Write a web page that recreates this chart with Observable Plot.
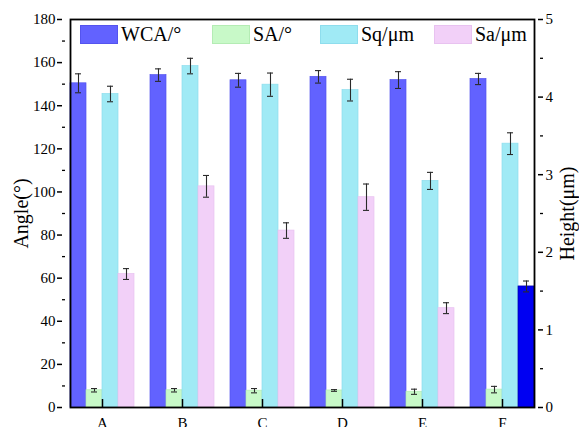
<!DOCTYPE html>
<html><head><meta charset="utf-8">
<script src="https://cdn.jsdelivr.net/npm/d3@7"></script>
<script src="https://cdn.jsdelivr.net/npm/@observablehq/plot@0.6"></script>
<style>
body{margin:0;background:#fff;}
#wrap{position:relative;width:579px;height:427px;overflow:hidden;font-family:"Liberation Serif","Times New Roman",serif;}
#wrap svg text{font-family:"Liberation Serif","Times New Roman",serif;}
#legend{position:absolute;left:0;top:0;width:579px;height:50px;pointer-events:none;}
.item{position:absolute;top:25px;height:19px;display:flex;align-items:center;font-size:20px;color:#000;white-space:nowrap;}
.sw{width:36px;height:17px;margin-right:3px;border:1px solid;}
</style></head><body><div id="wrap"><div id="legend"></div></div>
<script>
// ---- data ----
const categories = ["A", "B", "C", "D", "E", "F"];
const seriesNames = ["WCA/°", "SA/°", "Sq/μm", "Sa/μm"];
const wca    = [150.4, 154.2, 151.8, 153.4, 151.9, 152.4];   // angle (°)
const wcaErr = [4.4, 2.9, 3.2, 2.9, 3.9, 2.6];
const sa     = [8.0, 8.0, 7.8, 7.9, 7.3, 8.3];                // angle (°)
const saErr  = [0.8, 0.8, 1.0, 0.4, 1.2, 1.5];
const sq     = [4.04, 4.40, 4.16, 4.09, 2.92, 3.40];          // height (μm)
const sqErr  = [0.10, 0.10, 0.15, 0.14, 0.11, 0.14];
const saH    = [1.72, 2.85, 2.28, 2.71, 1.28, 1.56];          // height (μm)
const saHErr = [0.07, 0.14, 0.10, 0.17, 0.07, 0.07];
const angleTicks = [0, 20, 40, 60, 80, 100, 120, 140, 160, 180];
const angleMinor = [10, 30, 50, 70, 90, 110, 130, 150, 170];
const heightTicks = [0, 1, 2, 3, 4, 5];
const heightMinor = [0.5, 1.5, 2.5, 3.5, 4.5];
const seriesColors = ["#6262ff", "#c8f9c8", "#a0eaf5", "#f2d0f8"];
const seriesStrokes = ["#5454ee", "#b4ecb4", "#8edded", "#e8c2f0"];
const highlightColor = "#0000f2";   // the F / Sa bar is drawn in a stronger blue
const highlightStroke = "#0000a8";

// ---- build table: height series are placed on the angle axis (right axis 0..5 ↔ left 0..180) ----
const k = 180 / 5;
const series = [
  {name: seriesNames[0], v: wca, e: wcaErr, f: 1},
  {name: seriesNames[1], v: sa, e: saErr, f: 1},
  {name: seriesNames[2], v: sq, e: sqErr, f: k},
  {name: seriesNames[3], v: saH, e: saHErr, f: k}
];
const rows = [];
categories.forEach((c, i) => {
  series.forEach((s, j) => {
    const hl = c === "F" && j === 3;
    rows.push({
      cat: c, series: s.name,
      value: s.v[i] * s.f,
      lo: (s.v[i] - s.e[i]) * s.f,
      hi: (s.v[i] + s.e[i]) * s.f,
      fill: hl ? highlightColor : seriesColors[j],
      stroke: hl ? highlightStroke : seriesStrokes[j]
    });
  });
});

// outer padding of the category bands (fraction of a step); axes sit on the frame edge
const outer = 0.1;
const plotW = 579, mL = 61, mR = 37;
const edge = (plotW - mL - mR) / categories.length * outer;
const serif = "'Liberation Serif', 'Times New Roman', serif";

const plot = Plot.plot({
  width: plotW, height: 427,
  marginLeft: mL, marginRight: mR, marginTop: 19, marginBottom: 20,
  style: {fontFamily: serif, fontSize: "15px", color: "#000", background: "#fff", overflow: "visible"},
  fx: {domain: categories, paddingInner: 0.2, paddingOuter: outer, axis: null, label: null},
  x: {domain: seriesNames, padding: 0, axis: null},
  y: {domain: [0, 180], axis: null},
  color: {type: "identity"},
  marks: [
    Plot.barY(rows, {fx: "cat", x: "series", y: "value", fill: "fill", stroke: "stroke", strokeWidth: 0.7}),
    Plot.ruleX(rows, {fx: "cat", x: "series", y1: "lo", y2: "hi", stroke: "#2a2a2a", strokeWidth: 1.1}),
    Plot.tickY(rows, {fx: "cat", x: "series", y: "lo", insetLeft: 5, insetRight: 5, stroke: "#2a2a2a", strokeWidth: 1.1}),
    Plot.tickY(rows, {fx: "cat", x: "series", y: "hi", insetLeft: 5, insetRight: 5, stroke: "#2a2a2a", strokeWidth: 1.1}),
    Plot.frame({facet: "super", stroke: "#000", strokeWidth: 1.8}),
    Plot.axisY({anchor: "left", facetAnchor: "left", dx: -edge, ticks: angleTicks, tickSize: 5, tickPadding: 2, tickFormat: d => d, label: null, strokeWidth: 1.5, fontFamily: serif, fontSize: 15, fontVariant: "normal"}),
    Plot.axisY({anchor: "left", facetAnchor: "left", dx: -edge, ticks: angleMinor, tickSize: -3, tickFormat: () => "", label: null, strokeWidth: 1.3}),
    Plot.axisY({anchor: "right", facetAnchor: "right", dx: edge, ticks: heightTicks.map(v => v * k), tickFormat: d => d / k, tickSize: -5, tickPadding: 8, label: null, strokeWidth: 1.5, fontFamily: serif, fontSize: 15, fontVariant: "normal"}),
    Plot.axisY({anchor: "right", facetAnchor: "right", dx: edge, ticks: heightMinor.map(v => v * k), tickSize: -3, tickFormat: () => "", label: null, strokeWidth: 1.3}),
    Plot.axisFx({anchor: "bottom", tickSize: -8, tickPadding: 18, label: null, strokeWidth: 1.5, fontFamily: serif, fontSize: 15}),
    Plot.text(["Angle(°)"], {facet: "super", frameAnchor: "left", dx: -49, rotate: -90, textAnchor: "middle", lineAnchor: "middle", fontSize: 20, fontFamily: serif}),
    Plot.text(["Height(μm)"], {facet: "super", frameAnchor: "right", dx: 33, rotate: -90, textAnchor: "middle", lineAnchor: "middle", fontSize: 20, fontFamily: serif})
  ]
});
document.getElementById("wrap").prepend(plot);

// ---- legend (inside the plot area, top) ----
const legendX = [80, 212, 320, 434];
const legend = document.getElementById("legend");
seriesNames.forEach((n, j) => {
  const it = document.createElement("div");
  it.className = "item";
  it.style.left = legendX[j] + "px";
  const sw = document.createElement("span");
  sw.className = "sw";
  sw.style.background = seriesColors[j];
  sw.style.borderColor = seriesStrokes[j];
  it.appendChild(sw);
  it.appendChild(document.createTextNode(n));
  legend.appendChild(it);
});
</script></body></html>
